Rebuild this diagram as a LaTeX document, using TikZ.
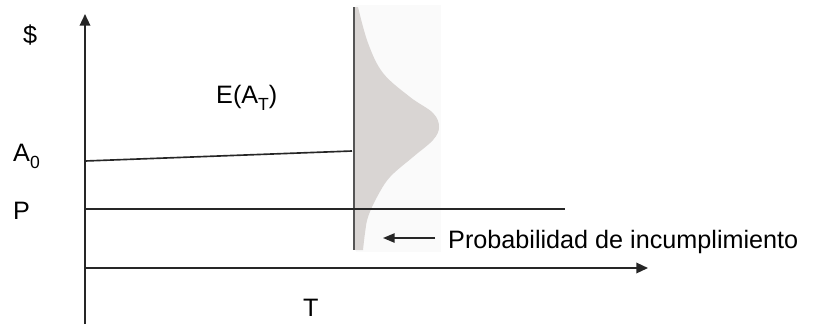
\documentclass[tikz,border=0pt]{standalone}
\usepackage{fontspec}
\setmainfont{Liberation Sans}
\usetikzlibrary{arrows.meta}

\definecolor{densgray}{RGB}{217,213,211}
\definecolor{panelgray}{RGB}{250,250,250}
\definecolor{linegray}{RGB}{85,85,85}

\newcommand{\lowsub}[1]{\raisebox{-0.3em}{\fontsize{15}{16}\selectfont #1}}

\begin{document}
\begin{tikzpicture}[
x=0.03cm, y=-0.03cm,
lbl/.style={font=\fontsize{21.5}{24}\selectfont, inner sep=0pt, anchor=base west},
axis/.style={-{Triangle[length=10pt,width=9pt]}, line width=1.5pt, color=black!85},
level/.style={line width=1.4pt, color=black!85},
pointer/.style={-{Triangle[length=10pt,width=8pt]}, line width=1.3pt, color=black!85} ]

\useasboundingbox (0,0) rectangle (816,324);

\coordinate (O) at (85,324);
\coordinate (ytip) at (85,14);
\coordinate (xstart) at (85,268);
\coordinate (xtip) at (648,268);
\coordinate (a0start) at (85,161);
\coordinate (a0end) at (352,151);
\coordinate (pstart) at (85,209);
\coordinate (pend) at (565,209);
\coordinate (vtop) at (354,7);
\coordinate (vbot) at (354,250);
\coordinate (ptail) at (435,238);
\coordinate (phead) at (383,238);

% distribution at T
\fill[panelgray] (356,5) rectangle (441,252);
\fill[densgray] (355,7) -- plot[smooth, tension=0.6] coordinates {(358,7) (368,43) (383,73) (410,97) (433,113) (439,127) (433,140) (413,157) (390,177) (377,197) (368,217) (365,233) (363,250)} -- (355,250) -- cycle;
\draw[linegray, line width=1.1pt] (vtop) -- (vbot);

\draw[axis] (O) -- (ytip);
\draw[axis] (xstart) -- (xtip);
\draw[level] (a0start) -- (a0end);
\draw[level] (pstart) -- (pend);
\draw[pointer] (ptail) -- (phead);

\node[lbl] (dollar) at (23,43) {\$};
\node[lbl] (ea) at (216,103) {E(A\lowsub{T})};
\node[lbl] (azero) at (13,161) {A\lowsub{0}};
\node[lbl] (plbl) at (13,219) {P};
\node[lbl] (tlbl) at (303,316) {T};
\node[lbl] (prob) at (448,248) {Probabilidad de incumplimiento};

\end{tikzpicture}
\end{document}
